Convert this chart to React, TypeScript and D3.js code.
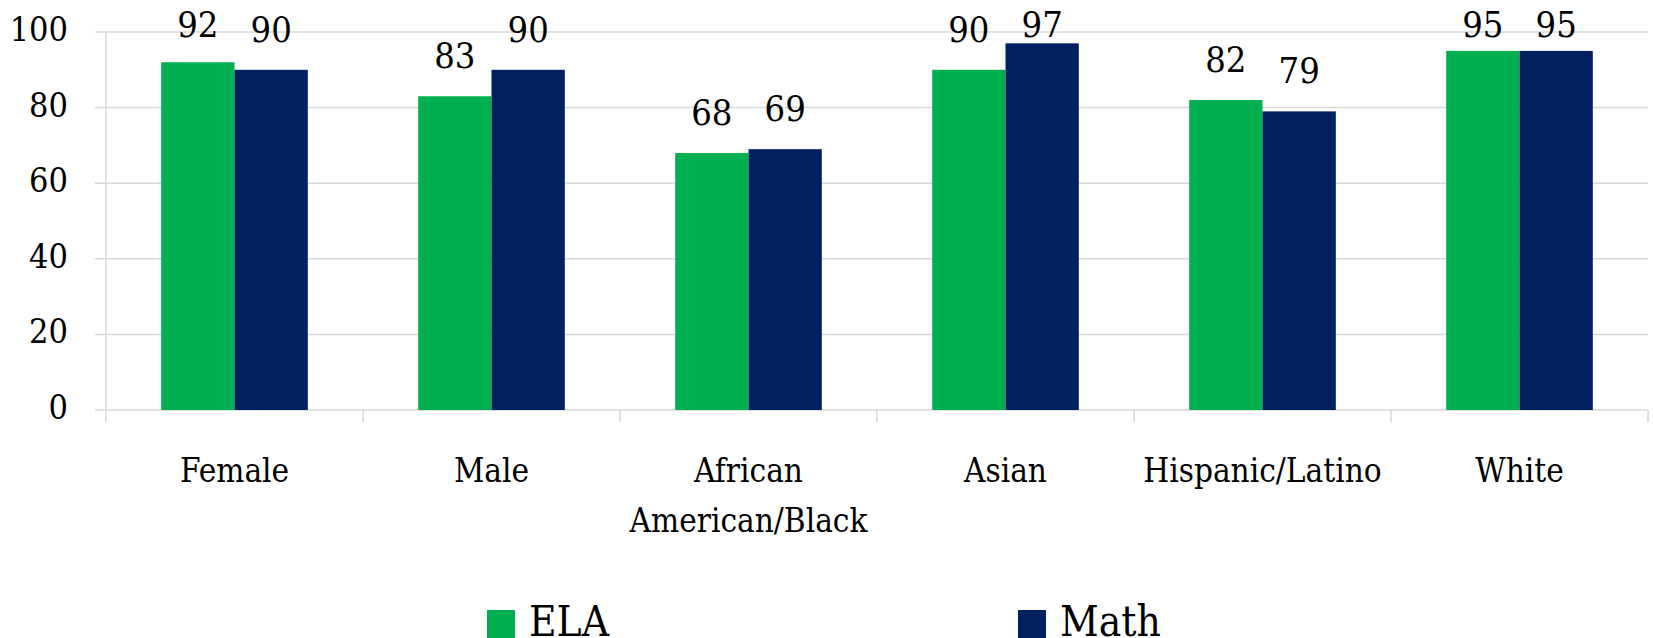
import React from "react";
import * as d3 from "d3";

const categories: string[][] = [
  ["Female"],
  ["Male"],
  ["African", "American/Black"],
  ["Asian"],
  ["Hispanic/Latino"],
  ["White"],
];
const series = ["ELA", "Math"];
const elaValues = [92, 83, 68, 90, 82, 95];
const mathValues = [90, 90, 69, 97, 79, 95];
const yTicks = [0, 20, 40, 60, 80, 100];
const colors = ["#00B050", "#002060"];

const W = 1653;
const H = 638;
const FONT = '"DejaVu Serif Condensed", "DejaVu Serif", serif';

export default function App() {
  const left = 106;
  const right = 1648;
  const top = 32;
  const bottom = 410;
  const idx = categories.map((_, i) => String(i));
  const x0 = d3.scaleBand<string>().domain(idx).range([left, right]).paddingInner(0).paddingOuter(0);
  const x1 = d3.scaleBand<string>().domain(series).range([0, x0.bandwidth()]).paddingInner(0).paddingOuter(0.753);
  const y = d3.scaleLinear().domain([0, 100]).range([bottom, top]);
  const values = [elaValues, mathValues];
  const ts = { fontFamily: FONT };

  return (
    <svg width={W} height={H} style={{ position: "absolute", left: 0, top: 0, background: "#fff" }}>
      {yTicks.map((t) => (
        <g key={t}>
          <line x1={95} x2={right} y1={y(t)} y2={y(t)} stroke="#d9d9d9" strokeWidth={1.5} />
          <text x={68} y={y(t) + 9} textAnchor="end" fontSize={34} fill="#000" style={ts}>
            {t}
          </text>
        </g>
      ))}
      <line x1={left} x2={left} y1={top} y2={bottom + 12} stroke="#d9d9d9" strokeWidth={1.5} />
      {idx.map((k) => (
        <line key={k} x1={x0(k)! + x0.bandwidth()} x2={x0(k)! + x0.bandwidth()} y1={bottom} y2={bottom + 12} stroke="#d9d9d9" strokeWidth={1.5} />
      ))}
      {idx.map((k, i) => (
        <g key={"b" + k}>
          {series.map((s, j) => {
            const v = values[j][i];
            const bx = x0(k)! + x1(s)!;
            return (
              <g key={s}>
                <rect x={bx} y={y(v)} width={x1.bandwidth()} height={bottom - y(v)} fill={colors[j]} />
                <text x={bx + x1.bandwidth() / 2} y={Math.max(36.5, y(v) - 28)} textAnchor="middle" fontSize={36} fill="#000" style={ts}>
                  {v}
                </text>
              </g>
            );
          })}
          {categories[i].map((line, li) => (
            <text key={li} x={x0(k)! + x0.bandwidth() / 2} y={482 + li * 50} textAnchor="middle" fontSize={33} fill="#000" style={ts}>
              {line}
            </text>
          ))}
        </g>
      ))}
      {series.map((s, j) => {
        const lx = [487, 1018][j];
        return (
          <g key={"l" + s}>
            <rect x={lx} y={610} width={28} height={28} fill={colors[j]} />
            <text x={lx + 42} y={636} fontSize={42} fill="#000" style={ts}>
              {s}
            </text>
          </g>
        );
      })}
    </svg>
  );
}
